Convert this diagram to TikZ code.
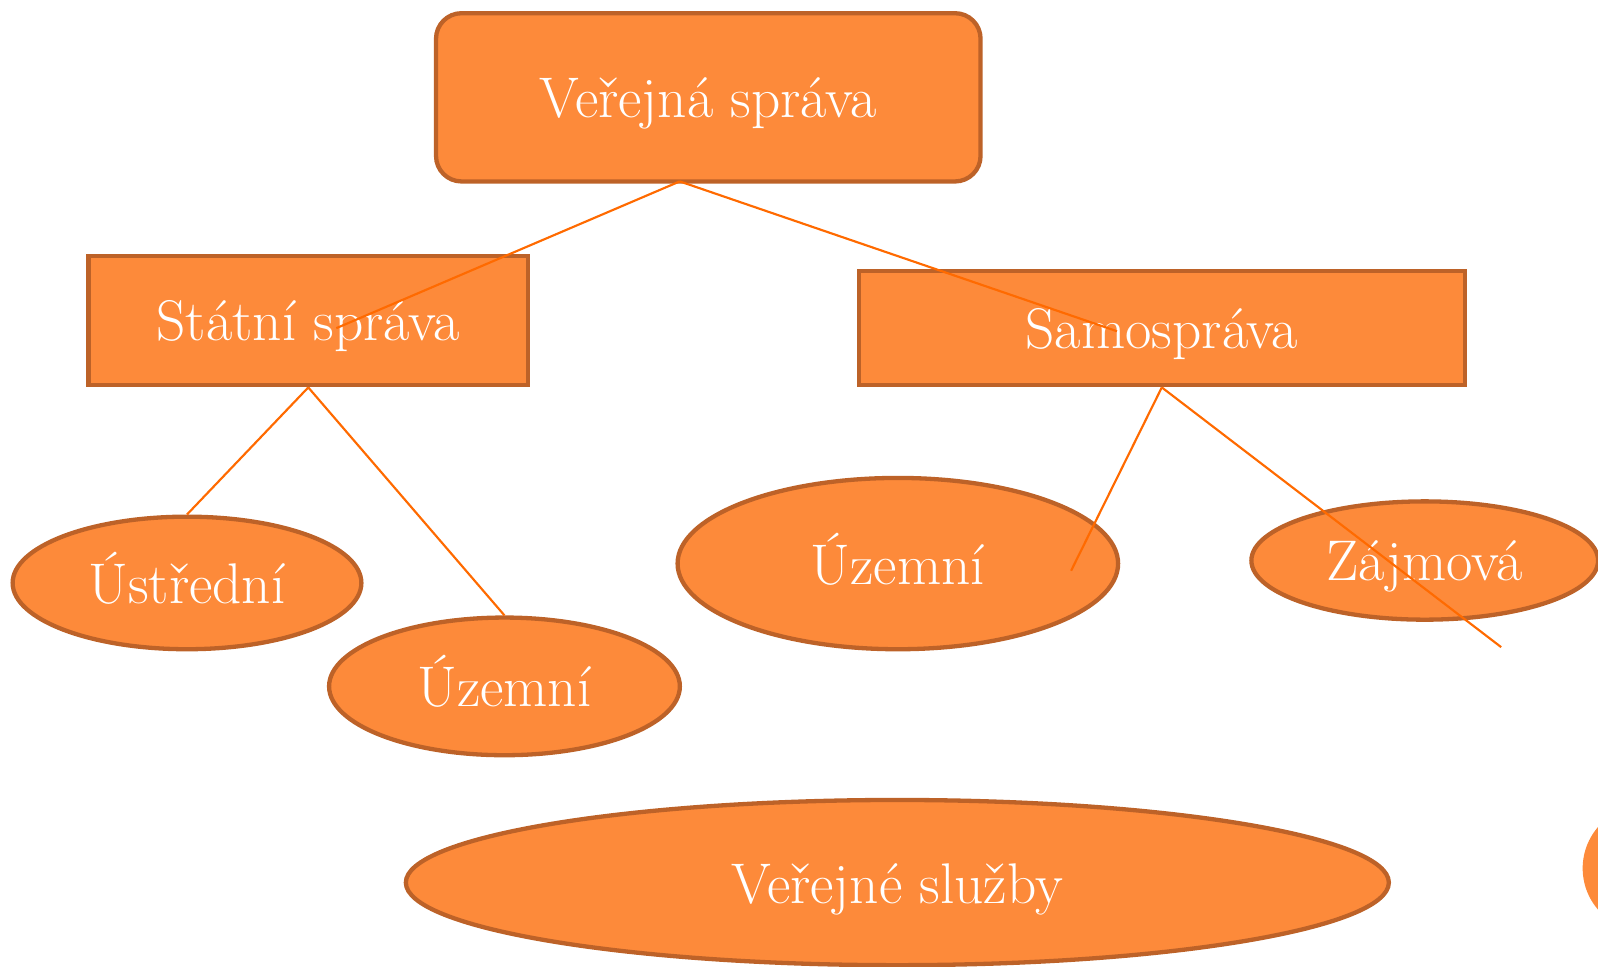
\documentclass[tikz,border=0pt]{standalone}
\usepackage{fontspec}
\usepackage{tikz}
\usetikzlibrary{shapes.geometric}
\definecolor{oranzova}{HTML}{FD8A3A}
\definecolor{okraj}{HTML}{BD6228}
\definecolor{cara}{HTML}{FF6A00}
\begin{document}
\begin{tikzpicture}[x=0.01cm, y=-0.01cm,
    uzel/.style={fill=oranzova, draw=okraj, line width=1.2pt, text=white, font=\fontsize{16}{19}\selectfont, inner sep=0pt, text height=11.4pt, text depth=0pt},
    obdelnik/.style={uzel, rectangle},
    elipsa/.style={uzel, ellipse},
    spoj/.style={draw=cara, line width=0.6pt}]
            \clip (0,0) rectangle (1568,948);
            \node (vs) [obdelnik, rounded corners=0.25cm, minimum width=5.34cm, minimum height=1.65cm] at (695,95.5) {Veřejná správa};
            \node (ss) [obdelnik, minimum width=4.31cm, minimum height=1.27cm] at (302.5,314.5) {Státní správa};
            \node (sam) [obdelnik, minimum width=5.94cm, minimum height=1.12cm] at (1140,322) {Samospráva};
            \node (ustr) [elipsa, minimum width=3.42cm, minimum height=1.30cm] at (183.5,572) {Ústřední};
            \node (uzem1) [elipsa, minimum width=3.44cm, minimum height=1.35cm] at (495,673.5) {Územní};
            \node (uzem2) [elipsa, minimum width=4.32cm, minimum height=1.68cm] at (881,553) {Územní};
            \node (zaj) [elipsa, minimum width=3.40cm, minimum height=1.16cm] at (1398,550) {Zájmová};
            \node (sluzby) [elipsa, minimum width=9.64cm, minimum height=1.62cm] at (880.5,866) {Veřejné služby};
            \node (kruh) [circle, fill=oranzova, minimum size=1.24cm] at (1615,852) {};
            % spoje
            \coordinate (vskoren) at (667,178);
            \coordinate (sskonec) at (330,322);
            \coordinate (samkonec) at (1096,325);
            \coordinate (uzkonec) at (1051,560);
            \coordinate (zajkonec) at (1473,635);
            \draw [spoj] (vskoren)--(sskonec);
            \draw [spoj] (vskoren)--(samkonec);
            \draw [spoj] (ss.south)--(ustr.north);
            \draw [spoj] (ss.south)--(uzem1.north);
            \draw [spoj] (sam.south)--(uzkonec);
            \draw [spoj] (sam.south)--(zajkonec);
        \end{tikzpicture}
\end{document}
